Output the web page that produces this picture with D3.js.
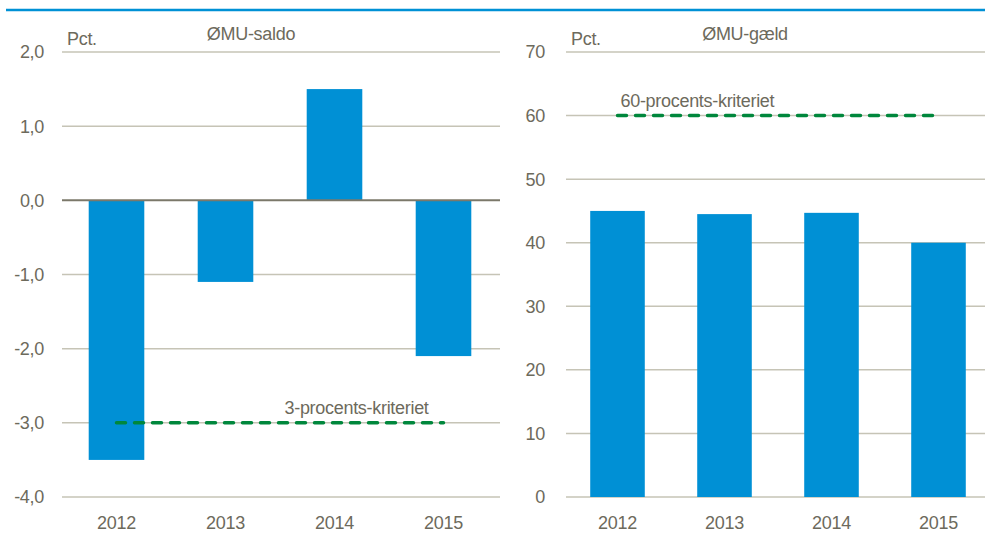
<!DOCTYPE html>
<html>
<head>
<meta charset="utf-8">
<script src="https://cdn.jsdelivr.net/npm/d3@7"></script>
<style>
	body { margin: 0; background: #fff; }
	svg { display: block; font-family: "Liberation Sans", Arial, sans-serif; }
	.tick-label, .cat-label, .unit, .panel-title, .crit-label { fill: #6d6a5c; font-size: 18px; letter-spacing: -0.3px; }
	.grid { stroke: #c6c4b6; stroke-width: 1.5; }
	.zero { stroke: #7b786a; stroke-width: 2; }
	.bar { fill: #0090d5; }
	.crit { stroke: #00873c; stroke-width: 3.5; stroke-dasharray: 9 9; stroke-linecap: round; fill: none; }
</style>
</head>
<body>
<svg id="plot"></svg>
<script>
const WIDTH = 985;
const HEIGHT = 539;

const plot = d3.select("#plot").attr("width", WIDTH).attr("height", HEIGHT);

// Data
const years = ["2012", "2013", "2014", "2015"];
const saldoValues = [-3.5, -1.1, 1.5, -2.1];
const gaeldValues = [45.0, 44.5, 44.7, 40.0];
const saldoTicks = [-4, -3, -2, -1, 0, 1, 2];
const gaeldTicks = [0, 10, 20, 30, 40, 50, 60, 70];
const saldoCriterion = -3;
const gaeldCriterion = 60;

const daLocale = d3.formatLocale({
	decimal: ",",
	thousands: ".",
	grouping: [3],
	currency: ["", " kr."],
	minus: "-",
});
const fmtOne = daLocale.format(".1f");
const fmtInt = daLocale.format("d");

// header rule
plot.append("line")
	.attr("x1", 6).attr("x2", WIDTH)
	.attr("y1", 10).attr("y2", 10)
	.attr("stroke", "#0091d5")
	.attr("stroke-width", 2.5);

function drawPanel({ xRange, gridX, labelX, domain, ticks, fmt, values, title, titleX, criterion, critText, critLabelPos, critEndShift, zeroLine }) {
	const g = plot.append("g");
	const x = d3.scaleBand(years, xRange).paddingInner(0.49).paddingOuter(0.245);
	const y = d3.scaleLinear(domain, [497, 52]);

	g.selectAll(".grid").data(ticks.filter(t => !(zeroLine && t === 0)))
		.join("line")
		.attr("class", "grid")
		.attr("x1", gridX[0]).attr("x2", gridX[1])
		.attr("y1", d => y(d)).attr("y2", d => y(d));

	g.selectAll(".tick-label").data(ticks)
		.join("text")
		.attr("class", "tick-label")
		.attr("x", labelX)
		.attr("y", d => y(d))
		.attr("dy", "0.36em")
		.attr("text-anchor", "end")
		.text(fmt);

	g.selectAll(".bar").data(values)
		.join("rect")
		.attr("class", "bar")
		.attr("x", (d, i) => x(years[i]))
		.attr("width", x.bandwidth())
		.attr("y", d => y(Math.max(0, d)))
		.attr("height", d => Math.abs(y(d) - y(0)));

	if (zeroLine) {
		g.append("line")
			.attr("class", "zero")
			.attr("x1", gridX[0]).attr("x2", gridX[1])
			.attr("y1", y(0)).attr("y2", y(0));
	}

	const center = yr => x(yr) + x.bandwidth() / 2;

	g.append("line")
		.attr("class", "crit")
		.attr("x1", center(years[0]))
		.attr("x2", center(years[years.length - 1]) - critEndShift)
		.attr("y1", y(criterion)).attr("y2", y(criterion));

	g.append("text")
		.attr("class", "crit-label")
		.attr("x", critLabelPos(center))
		.attr("y", y(criterion) - 9)
		.text(critText);

	g.selectAll(".cat-label").data(years)
		.join("text")
		.attr("class", "cat-label")
		.attr("x", d => center(d))
		.attr("y", 529)
		.attr("text-anchor", "middle")
		.text(d => d);

	g.append("text")
		.attr("class", "unit")
		.attr("x", gridX[0] + 5)
		.attr("y", 45)
		.text("Pct.");

	g.append("text")
		.attr("class", "panel-title")
		.attr("x", titleX)
		.attr("y", 40)
		.attr("text-anchor", "middle")
		.text(title);
}

drawPanel({
	xRange: [62, 498],
	gridX: [62, 500],
	labelX: 44,
	domain: [-4, 2],
	ticks: saldoTicks,
	fmt: fmtOne,
	values: saldoValues,
	title: "ØMU-saldo",
	titleX: 251,
	criterion: saldoCriterion,
	critText: "3-procents-kriteriet",
	critLabelPos: c => c("2014") - 50,
	critEndShift: 0,
	zeroLine: true,
});

drawPanel({
	xRange: [564, 992],
	gridX: [566, 985],
	labelX: 545,
	domain: [0, 70],
	ticks: gaeldTicks,
	fmt: fmtInt,
	values: gaeldValues,
	title: "ØMU-gæld",
	titleX: 745,
	criterion: gaeldCriterion,
	critText: "60-procents-kriteriet",
	critLabelPos: c => c("2012") + 3,
	critEndShift: 5,
	zeroLine: false,
});
</script>
</body>
</html>
